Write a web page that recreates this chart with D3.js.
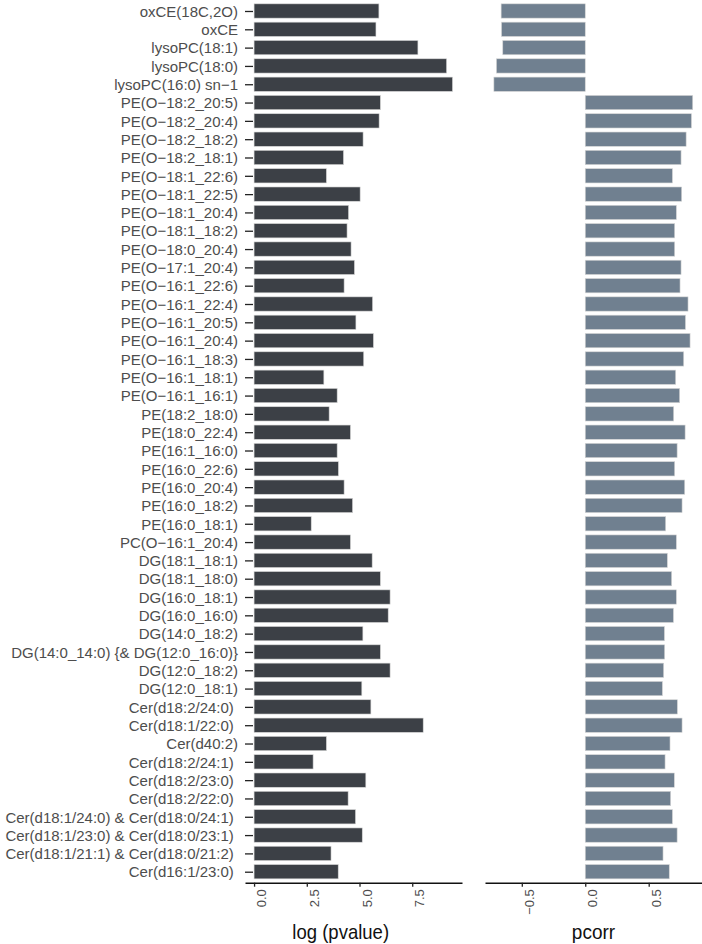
<!DOCTYPE html>
<html>
<head>
<meta charset="utf-8">
<script src="https://cdn.jsdelivr.net/npm/d3@7"></script>
<style>
  html, body { margin: 0; padding: 0; background: #fff; }
  svg { display: block; }
  text { font-family: "Liberation Sans", Arial, Helvetica, sans-serif; }
</style>
</head>
<body>
<svg id="chart" width="702" height="944"></svg>
<script>
// ---- data ----
const categories = [
  "oxCE(18C,2O)", "oxCE", "lysoPC(18:1)", "lysoPC(18:0)", "lysoPC(16:0) sn−1",
  "PE(O−18:2_20:5)", "PE(O−18:2_20:4)", "PE(O−18:2_18:2)", "PE(O−18:2_18:1)",
  "PE(O−18:1_22:6)", "PE(O−18:1_22:5)", "PE(O−18:1_20:4)", "PE(O−18:1_18:2)",
  "PE(O−18:0_20:4)", "PE(O−17:1_20:4)", "PE(O−16:1_22:6)", "PE(O−16:1_22:4)",
  "PE(O−16:1_20:5)", "PE(O−16:1_20:4)", "PE(O−16:1_18:3)", "PE(O−16:1_18:1)",
  "PE(O−16:1_16:1)", "PE(18:2_18:0)", "PE(18:0_22:4)", "PE(16:1_16:0)",
  "PE(16:0_22:6)", "PE(16:0_20:4)", "PE(16:0_18:2)", "PE(16:0_18:1)",
  "PC(O−16:1_20:4)", "DG(18:1_18:1)", "DG(18:1_18:0)", "DG(16:0_18:1)",
  "DG(16:0_16:0)", "DG(14:0_18:2)", "DG(14:0_14:0) {& DG(12:0_16:0)}",
  "DG(12:0_18:2)", "DG(12:0_18:1)", "Cer(d18:2/24:0) ", "Cer(d18:1/22:0) ",
  "Cer(d40:2)", "Cer(d18:2/24:1) ", "Cer(d18:2/23:0) ", "Cer(d18:2/22:0) ",
  "Cer(d18:1/24:0) & Cer(d18:0/24:1) ", "Cer(d18:1/23:0) & Cer(d18:0/23:1) ",
  "Cer(d18:1/21:1) & Cer(d18:0/21:2) ", "Cer(d16:1/23:0) "
];
const logPvalue = [
  5.92, 5.78, 7.77, 9.13, 9.41,
  5.99, 5.93, 5.17, 4.24,
  3.43, 5.03, 4.48, 4.41,
  4.60, 4.76, 4.27, 5.62,
  4.83, 5.66, 5.20, 3.31,
  3.94, 3.56, 4.57, 3.94,
  4.00, 4.27, 4.67, 2.71,
  4.57, 5.60, 5.99, 6.45,
  6.36, 5.16, 5.99,
  6.45, 5.11, 5.54, 8.02,
  3.43, 2.80, 5.30, 4.46,
  4.81, 5.13,
  3.65, 3.99
];
const pcorr = [
  -0.663, -0.660, -0.650, -0.700, -0.720,
  0.847, 0.837, 0.795, 0.755,
  0.687, 0.760, 0.718, 0.705,
  0.705, 0.755, 0.747, 0.810,
  0.790, 0.826, 0.776, 0.713,
  0.744, 0.697, 0.787, 0.724,
  0.705, 0.784, 0.763, 0.634,
  0.718, 0.647, 0.681, 0.718,
  0.695, 0.624, 0.626,
  0.618, 0.608, 0.726, 0.763,
  0.668, 0.629, 0.702, 0.673,
  0.687, 0.724,
  0.613, 0.662
];
const logTicks = [0, 2.5, 5, 7.5];
const pcorrTicks = [-0.5, 0, 0.5];
const xTitles = ["log (pvalue)", "pcorr"];

// ---- layout ----
const svg = d3.select("#chart");
const axisY = 882.7;
const darkFill = "#3c4046";
const lightFill = "#708090";
const textGrey = "#4d4d4d";

const y = d3.scalePoint().domain(categories).range([0, axisY]).padding(0.6);
const barH = y.step() * 0.78;

const xL = d3.scaleLinear().domain([-0.43, 9.86]).range([245, 462]);
const xR = d3.scaleLinear().domain([-0.79, 0.92]).range([485, 702]);

const rows = categories.map((c, i) => ({ c, lp: logPvalue[i], pc: pcorr[i] }));

// left bars
svg.append("g").selectAll("rect").data(rows).join("rect")
  .attr("x", d => xL(Math.min(0, d.lp)))
  .attr("width", d => Math.abs(xL(d.lp) - xL(0)))
  .attr("y", d => y(d.c) - barH / 2)
  .attr("height", barH)
  .attr("fill", darkFill)
  .attr("stroke", "#d6d6d6")
  .attr("stroke-width", 0.6);

// right bars
svg.append("g").selectAll("rect").data(rows).join("rect")
  .attr("x", d => xR(Math.min(0, d.pc)))
  .attr("width", d => Math.abs(xR(d.pc) - xR(0)))
  .attr("y", d => y(d.c) - barH / 2)
  .attr("height", barH)
  .attr("fill", lightFill)
  .attr("stroke", "#d6d6d6")
  .attr("stroke-width", 0.6);

// y axis (left panel)
const yAxis = d3.axisLeft(y).tickSize(8).tickPadding(7)
  .tickFormat(d => d.replace(/ $/, "\u00a0"));
const gy = svg.append("g").attr("transform", "translate(253,0)").call(yAxis);
gy.select(".domain").remove();
gy.selectAll(".tick line").attr("stroke", "#222").attr("stroke-width", 1.3);
gy.selectAll(".tick text")
  .attr("fill", textGrey)
  .attr("font-size", 15)
  .attr("dy", "0.35em")
  .style("font-family", "'Liberation Sans', Arial, Helvetica, sans-serif");

// x axes
function drawX(scale, ticks) {
  const ax = d3.axisBottom(scale).tickValues(ticks).tickSize(4).tickSizeOuter(0)
    .tickFormat(d3.format(".1f"));
  const g = svg.append("g").attr("transform", `translate(0,${axisY})`).call(ax);
  g.select(".domain").attr("stroke", "#111").attr("stroke-width", 1.4);
  g.selectAll(".tick line").attr("stroke", "#222").attr("stroke-width", 1.3);
  g.selectAll(".tick text")
    .attr("fill", textGrey)
    .attr("font-size", 13)
    .attr("y", 0).attr("dy", 0)
    .attr("text-anchor", "end")
    .attr("transform", "translate(11.5,6.5) rotate(-90)")
    .style("font-family", "'Liberation Sans', Arial, Helvetica, sans-serif");
  return g;
}
drawX(xL, logTicks);
drawX(xR, pcorrTicks);

// axis titles
svg.append("text")
  .attr("x", 340.7).attr("y", 938.6)
  .attr("text-anchor", "middle")
  .attr("font-size", 21)
  .attr("fill", "#111")
  .attr("textLength", 96.7)
  .attr("lengthAdjust", "spacingAndGlyphs")
  .text(xTitles[0]);
svg.append("text")
  .attr("x", 593.5).attr("y", 939)
  .attr("text-anchor", "middle")
  .attr("font-size", 21)
  .attr("fill", "#111")
  .attr("textLength", 43.3)
  .attr("lengthAdjust", "spacingAndGlyphs")
  .text(xTitles[1]);
</script>
</body>
</html>
